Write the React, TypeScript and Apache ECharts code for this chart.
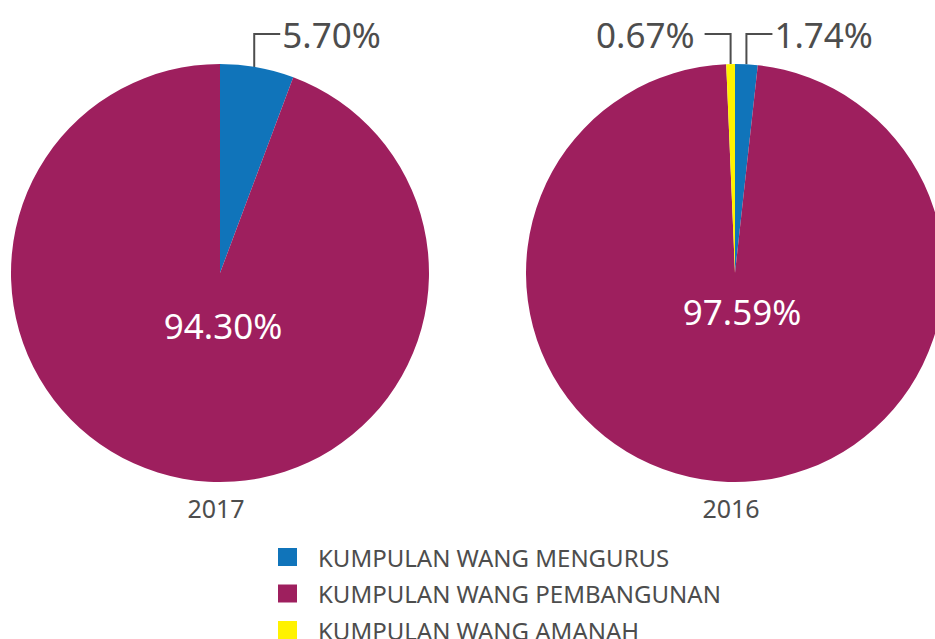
import React, { useEffect, useRef } from "react";
import * as echarts from "echarts";

const categories = ["KUMPULAN WANG MENGURUS", "KUMPULAN WANG PEMBANGUNAN", "KUMPULAN WANG AMANAH"];
const colors = ["#1074BA", "#9E1F5E", "#FFF200"];
const years = ["2017", "2016"];
const values2017 = [5.7, 94.3, 0];
const values2016 = [1.74, 97.59, 0.67];

const FONT = "Noto Sans";
const TEXT = "#4D4D4D";

const pies = [
  { year: years[0], values: values2017, center: [220, 273], inner: [3, 52] },
  { year: years[1], values: values2016, center: [735, 273], inner: [7, 38] },
];
const RADIUS = 209;
const LABEL_Y = 34;
const ARM = 26;
const LEGEND_TOP = 545;
const LEGEND_STEP = 36.5;

function buildSeries(p: any) {
  const data = categories
    .map((name, i) => ({ name, value: p.values[i], idx: i }))
    .filter((d) => d.value > 0)
    .map((d) => ({
      name: d.name,
      value: d.value,
      itemStyle: { color: colors[d.idx] },
      label:
        d.idx === 1
          ? { position: "inside", color: "#FFFFFF", fontSize: 35 }
          : { position: "outside", color: TEXT, fontSize: 35 },
      labelLine: { show: d.idx !== 1 },
      _idx: d.idx,
    }));
  return {
    type: "pie",
    center: p.center,
    radius: RADIUS,
    startAngle: 90,
    clockwise: true,
    avoidLabelOverlap: false,
    itemStyle: { borderWidth: 0 },
    emphasis: { disabled: true },
    label: {
      show: true,
      fontFamily: FONT,
      formatter: (q: any) => `${Number(q.value).toFixed(2)}%`,
    },
    labelLine: { show: true, length: 10, length2: 10, lineStyle: { color: TEXT, width: 2 } },
    labelLayout: (params: any) => {
      const item = data[params.dataIndex];
      if (!item) return {};
      if (item._idx === 1) {
        return {
          x: p.center[0] + p.inner[0],
          y: p.center[1] + p.inner[1],
          align: "center",
          verticalAlign: "middle",
        };
      }
      const pts = params.labelLinePoints;
      let sx = pts ? pts[0][0] : p.center[0];
      const sy = pts ? pts[0][1] : p.center[1] - RADIUS;
      const dir = item._idx === 2 ? -1 : 1;
      if (dir > 0 && sx - p.center[0] > 20) sx -= 3;
      const gap = dir > 0 ? 2 : 10;
      return {
        x: sx + dir * (ARM + gap),
        y: LABEL_Y,
        align: dir > 0 ? "left" : "right",
        verticalAlign: "middle",
        labelLinePoints: [
          [sx, sy],
          [sx, LABEL_Y],
          [sx + dir * ARM, LABEL_Y],
        ],
      };
    },
    data,
  };
}

export default function App() {
  const ref = useRef<HTMLDivElement>(null);
  useEffect(() => {
    if (!ref.current) return;
    const chart = echarts.init(ref.current, undefined, { renderer: "svg" });
    chart.setOption({
      animation: false,
      backgroundColor: "#FFFFFF",
      textStyle: { fontFamily: FONT },
      legend: categories.map((name, i) => ({
        orient: "vertical",
        left: 278,
        top: LEGEND_TOP + i * LEGEND_STEP,
        padding: 0,
        itemWidth: 19,
        itemHeight: 18,
        icon: "rect",
        selectedMode: false,
        data: [name],
        textStyle: {
          fontFamily: FONT,
          fontSize: 24,
          lineHeight: 18,
          color: TEXT,
          padding: [0, 0, 0, 16],
        },
      })),
      graphic: pies.map((p) => ({
        type: "text",
        x: p.center[0] - 4,
        y: 508,
        style: {
          text: p.year,
          fontFamily: FONT,
          fontSize: 25,
          fill: TEXT,
          align: "center",
          verticalAlign: "middle",
        },
      })),
      series: pies.map(buildSeries),
    });
    return () => chart.dispose();
  }, []);
  return (
    <div
      ref={ref}
      style={{ position: "fixed", left: 0, top: 0, width: 935, height: 639, overflow: "hidden" }}
    />
  );
}
